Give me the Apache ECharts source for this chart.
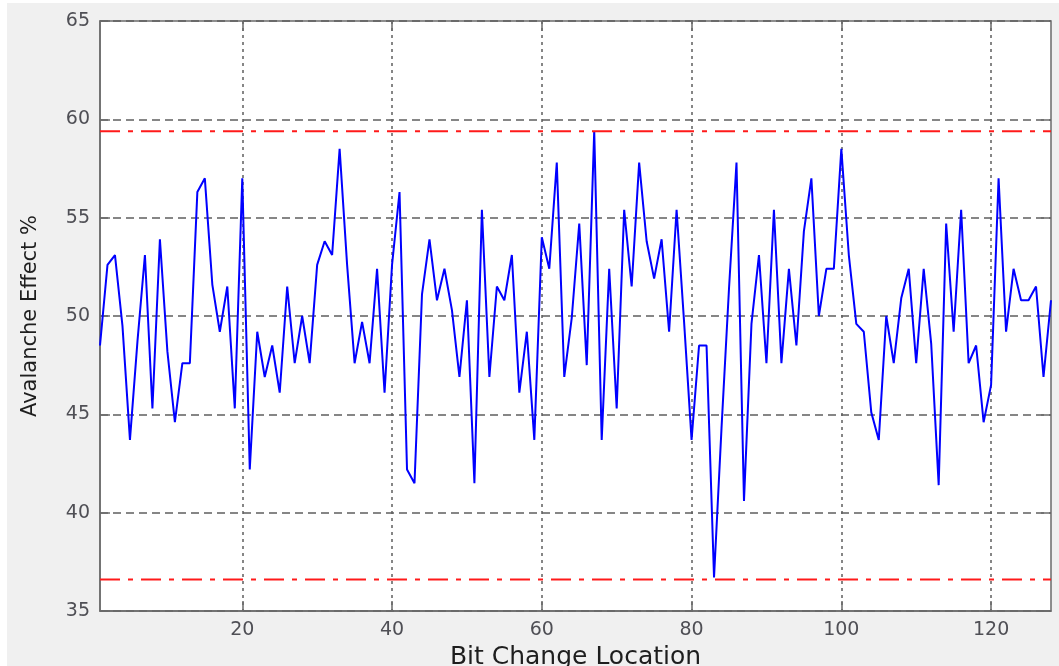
<!DOCTYPE html>
<html>
<head>
<meta charset="utf-8">
<script src="https://cdn.jsdelivr.net/npm/echarts@6/dist/echarts.min.js"></script>
<style>
html,body{margin:0;padding:0;background:#fff;}
#chart{width:1059px;height:666px;}
</style>
</head>
<body>
<div id="chart"></div>
<script>
// Avalanche effect (%) per bit change location 1..128
const avalanche = [
  48.5, 52.6, 53.1, 49.5, 43.7, 48.7, 53.1, 45.3, 53.9, 48.2,
  44.6, 47.6, 47.6, 56.3, 57.0, 51.6, 49.2, 51.5, 45.3, 57.0,
  42.2, 49.2, 46.9, 48.5, 46.1, 51.5, 47.6, 50.0, 47.6, 52.6,
  53.8, 53.1, 58.5, 52.6, 47.6, 49.7, 47.6, 52.4, 46.1, 52.6,
  56.3, 42.2, 41.5, 51.1, 53.9, 50.8, 52.4, 50.3, 46.9, 50.8,
  41.5, 55.4, 46.9, 51.5, 50.8, 53.1, 46.1, 49.2, 43.7, 54.0,
  52.4, 57.8, 46.9, 49.9, 54.7, 47.5, 59.4, 43.7, 52.4, 45.3,
  55.4, 51.5, 57.8, 53.8, 51.9, 53.9, 49.2, 55.4, 49.7, 43.7,
  48.5, 48.5, 36.7, 44.3, 51.4, 57.8, 40.6, 49.6, 53.1, 47.6,
  55.4, 47.6, 52.4, 48.5, 54.3, 57.0, 50.0, 52.4, 52.4, 58.5,
  53.1, 49.6, 49.2, 45.1, 43.7, 50.0, 47.6, 50.9, 52.4, 47.6,
  52.4, 48.6, 41.4, 54.7, 49.2, 55.4, 47.6, 48.5, 44.6, 46.5,
  57.0, 49.2, 52.4, 50.8, 50.8, 51.5, 46.9, 50.8
];
const upperLimit = [59.4];
const lowerLimit = [36.6];
const xTicks = [20, 40, 60, 80, 100, 120];
const yTicks = [35, 40, 45, 50, 55, 60, 65];
const xRange = [1, 128];

const seriesData = avalanche.map((v, i) => [i + 1, v]);
const limitLine = (v) => [[xRange[0], v], [xRange[1], v]];

const FONT = 'DejaVu Sans';
const gridColor = '#5f5f5f';
const axisColor = '#6b6b6b';

const chart = echarts.init(document.getElementById('chart'), null, {renderer: 'canvas'});
chart.setOption({
  animation: false,
  backgroundColor: '#f0f0f0',
  graphic: [
    {type: 'rect', left: 0, top: 0, shape: {width: 1059, height: 3}, style: {fill: '#ffffff'}, silent: true},
    {type: 'rect', left: 0, top: 0, shape: {width: 7, height: 666}, style: {fill: '#ffffff'}, silent: true}
  ],
  grid: {
    left: 100, right: 8, top: 21, bottom: 55,
    containLabel: false, outerBoundsMode: 'none',
    show: true, backgroundColor: '#ffffff',
    borderColor: axisColor, borderWidth: 1.5
  },
  xAxis: [{
    type: 'value', min: xRange[0], max: xRange[1],
    name: 'Bit Change Location', nameLocation: 'middle', nameGap: 34,
    nameTextStyle: {fontFamily: FONT, fontSize: 25, color: '#1e1e1e'},
    axisLine: {show: true, lineStyle: {color: axisColor, width: 1.5}},
    axisTick: {show: true, inside: true, length: 10, customValues: xTicks, lineStyle: {color: axisColor, width: 1.5}},
    axisLabel: {customValues: xTicks, fontFamily: FONT, fontSize: 19, color: '#4f4f55', margin: 10},
    splitLine: {show: true, lineStyle: {color: gridColor, width: 1.5, type: [3, 4]}}
  }, {
    type: 'value', min: xRange[0], max: xRange[1], position: 'top',
    axisLine: {show: false},
    axisTick: {show: true, inside: true, length: 10, customValues: xTicks, lineStyle: {color: axisColor, width: 1.5}},
    axisLabel: {show: false},
    splitLine: {show: false}
  }],
  yAxis: [{
    type: 'value', min: yTicks[0], max: yTicks[yTicks.length - 1], interval: 5,
    name: 'Avalanche Effect %', nameLocation: 'middle', nameGap: 59, nameRotate: 90,
    nameTextStyle: {fontFamily: FONT, fontSize: 21, color: '#1e1e1e'},
    axisLine: {show: true, lineStyle: {color: axisColor, width: 1.5}},
    axisTick: {show: true, inside: true, length: 10, lineStyle: {color: axisColor, width: 1.5}},
    axisLabel: {fontFamily: FONT, fontSize: 19, color: '#4f4f55', margin: 10},
    splitLine: {show: true, lineStyle: {color: gridColor, width: 1.5, type: [8, 5]}}
  }, {
    type: 'value', min: yTicks[0], max: yTicks[yTicks.length - 1], interval: 5, position: 'right',
    axisLine: {show: false},
    axisTick: {show: true, inside: true, length: 10, lineStyle: {color: axisColor, width: 1.5}},
    axisLabel: {show: false},
    splitLine: {show: false}
  }],
  series: [
    {
      type: 'line', data: seriesData, showSymbol: false, symbol: 'none',
      lineStyle: {color: '#0000ff', width: 2}, z: 3
    },
    {
      type: 'line', data: limitLine(upperLimit[0]), showSymbol: false, symbol: 'none',
      lineStyle: {color: '#ff1a1a', width: 2, type: [20, 8, 5, 8]}, z: 4
    },
    {
      type: 'line', data: limitLine(lowerLimit[0]), showSymbol: false, symbol: 'none',
      lineStyle: {color: '#ff1a1a', width: 2, type: [20, 8, 5, 8]}, z: 4
    }
  ]
});
</script>
</body>
</html>
